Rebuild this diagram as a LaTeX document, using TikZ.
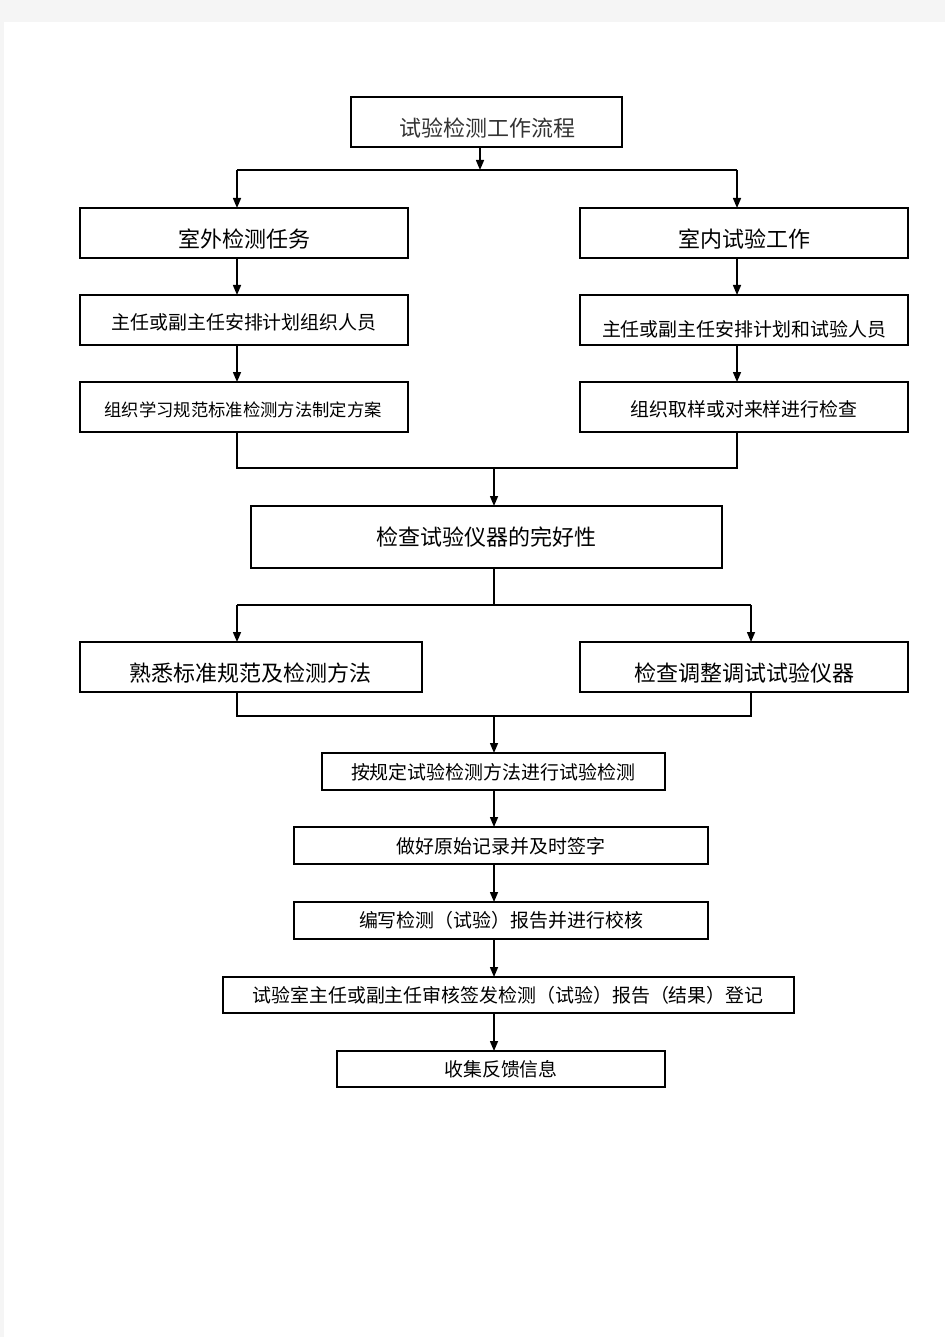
\documentclass[tikz,border=0pt]{standalone}
\usepackage{fontspec}
\newfontfamily\cjk{Noto Sans CJK SC}
\usetikzlibrary{arrows.meta}
\newcommand\mkbox[6][]{\node[box,#1,minimum width={(#4-#2)*0.75pt},minimum height={(#5-#3)*0.75pt}] (#6) at ({(#2+#4)/2},{(#3+#5)/2}) {};}
\tikzset{
  box/.style={draw=black,line width=1pt,inner sep=0pt,outer sep=0pt,rectangle,fill=white},
  txt/.style={inner sep=0pt,text=black},
  big/.style={font=\cjk\fontsize{16.5pt}{18pt}\selectfont},
  mid/.style={font=\cjk\fontsize{14.2pt}{16pt}\selectfont},
  sml/.style={font=\cjk\fontsize{13pt}{15pt}\selectfont},
  ln/.style={line width=1.1pt,black},
  arr/.style={ln,-{Triangle[length=7.5pt,width=6pt]}}
}
\begin{document}
\begin{tikzpicture}[x=0.75pt,y=-0.75pt]
\useasboundingbox (0,0) rectangle (945,1337);
\fill[black!4] (0,0) rectangle (945,1337);
\fill[white] (4,22) rectangle (945,1337);
% boxes
\mkbox{351}{97}{622}{147}{title}
\node[txt,big,text=black!80] (titlet) at (487,128) {试验检测工作流程};
\mkbox{80}{208}{408}{258}{L1}
\node[txt,big] (L1t) at (244,239) {室外检测任务};
\mkbox{580}{208}{908}{258}{R1}
\node[txt,big] (R1t) at (744,239) {室内试验工作};
\mkbox{80}{295}{408}{345}{L2}
\node[txt,mid] (L2t) at (244,322) {主任或副主任安排计划组织人员};
\mkbox{580}{295}{908}{345}{R2}
\node[txt,mid] (R2t) at (744,329) {主任或副主任安排计划和试验人员};
\mkbox{80}{382}{408}{432}{L3}
\node[txt,sml] (L3t) at (243,410) {组织学习规范标准检测方法制定方案};
\mkbox{580}{382}{908}{432}{R3}
\node[txt,mid] (R3t) at (744,409) {组织取样或对来样进行检查};
\mkbox{251}{506}{722}{568}{M}
\node[txt,big] (Mt) at (486,537) {检查试验仪器的完好性};
\mkbox{80}{642}{422}{692}{L4}
\node[txt,big] (L4t) at (250,673) {熟悉标准规范及检测方法};
\mkbox{580}{642}{908}{692}{R4}
\node[txt,big] (R4t) at (744,673) {检查调整调试试验仪器};
\mkbox{322}{753}{665}{790}{B1}
\node[txt,mid] (B1t) at (493,772) {按规定试验检测方法进行试验检测};
\mkbox{294}{827}{708}{864}{B2}
\node[txt,mid] (B2t) at (501,846) {做好原始记录并及时签字};
\mkbox[line width=1.5pt]{294}{902}{708}{939}{B3}
\node[txt,mid] (B3t) at (501,920) {编写检测（试验）报告并进行校核};
\mkbox{223}{977}{794}{1013}{B4}
\node[txt,mid] (B4t) at (508,995) {试验室主任或副主任审核签发检测（试验）报告（结果）登记};
\mkbox{337}{1051}{665}{1087}{B5}
\node[txt,mid] (B5t) at (501,1069) {收集反馈信息};
% connectors
\coordinate (s0) at (480,147);
\coordinate (s1) at (480,170);
\coordinate (sl) at (237,170);
\coordinate (sr) at (737,170);
\draw[arr] (s0) -- (s1);
\draw[ln] (sl) -- (sr);
\draw[arr] (sl) -- (sl |- L1.north);
\draw[arr] (sr) -- (sr |- R1.north);
\draw[arr] (sl |- L1.south) -- (sl |- L2.north);
\draw[arr] (sr |- R1.south) -- (sr |- R2.north);
\draw[arr] (sl |- L2.south) -- (sl |- L3.north);
\draw[arr] (sr |- R2.south) -- (sr |- R3.north);
\coordinate (j1l) at (237,468);
\coordinate (j1r) at (737,468);
\coordinate (j1) at (494,468);
\draw[ln] (sl |- L3.south) -- (j1l) -- (j1r) -- (sr |- R3.south);
\draw[arr] (j1) -- (j1 |- M.north);
\coordinate (j2) at (494,605);
\coordinate (j2l) at (237,605);
\coordinate (j2r) at (751,605);
\draw[ln] (j2 |- M.south) -- (j2);
\draw[ln] (j2l) -- (j2r);
\draw[arr] (j2l) -- (j2l |- L4.north);
\draw[arr] (j2r) -- (j2r |- R4.north);
\coordinate (j3l) at (237,716);
\coordinate (j3r) at (751,716);
\coordinate (j3) at (494,716);
\draw[ln] (j3l |- L4.south) -- (j3l) -- (j3r) -- (j3r |- R4.south);
\draw[arr] (j3) -- (j3 |- B1.north);
\draw[arr] (j3 |- B1.south) -- (j3 |- B2.north);
\draw[arr] (j3 |- B2.south) -- (j3 |- B3.north);
\draw[arr] (j3 |- B3.south) -- (j3 |- B4.north);
\draw[arr] (j3 |- B4.south) -- (j3 |- B5.north);
\end{tikzpicture}
\end{document}
